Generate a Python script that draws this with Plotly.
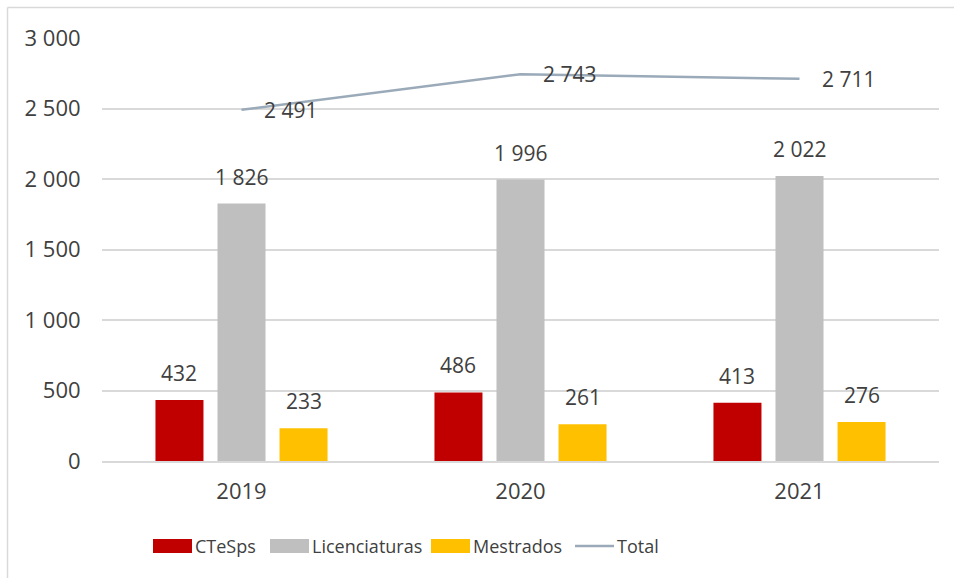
import plotly.graph_objects as go

years = ["2019", "2020", "2021"]
ctesps = [432, 486, 413]
licenciaturas = [1826, 1996, 2022]
mestrados = [233, 261, 276]
total = [2491, 2743, 2711]

W, H = 954, 578
ML, MR, MT, MB = 102, 15, 38, 117
pw = W - ML - MR
ph = H - MT - MB

FONT = "Open Sans"
FS = 22
TXT = "#404040"
BORDER = "#D9D9D9"


def fmt(v):
    return f"{v:,}".replace(",", " ")


fig = go.Figure()
series = [
    ("CTeSps", ctesps, "#C00000"),
    ("Licenciaturas", licenciaturas, "#BFBFBF"),
    ("Mestrados", mestrados, "#FFC000"),
]
nS = len(series)
bargap, groupgap = 0.333, 0.226
slot = (1 - bargap) / nS
for i, (name, vals, col) in enumerate(series):
    fig.add_trace(go.Bar(
        x=years, y=vals, name=name, marker=dict(color=col, line=dict(width=0)),
        offsetgroup=str(i), showlegend=False, hoverinfo="skip",
    ))
    off = (i - (nS - 1) / 2) * slot
    for k, v in enumerate(vals):
        fig.add_annotation(
            x=k + off, y=v, xref="x", yref="y", text=fmt(v), showarrow=False,
            yanchor="bottom", xanchor="center", yshift=11,
            font=dict(family=FONT, size=21, color=TXT),
        )

fig.add_trace(go.Scatter(
    x=years, y=total, name="Total", mode="lines",
    line=dict(color="#9AAAB9", width=2.5), showlegend=False, hoverinfo="skip",
))
for k, v in enumerate(total):
    fig.add_annotation(
        x=k, y=v, xref="x", yref="y", text=fmt(v), showarrow=False,
        xanchor="left", yanchor="middle", xshift=20,
        font=dict(family=FONT, size=21, color=TXT),
    )

# custom legend (Excel style wide swatches)
legend_items = [("CTeSps", "#C00000", "bar", 153),
                ("Licenciaturas", "#BFBFBF", "bar", 270),
                ("Mestrados", "#FFC000", "bar", 431),
                ("Total", "#9AAAB9", "line", 575)]
ly = (MT + ph - 546) / ph
lh = 7 / ph
for name, col, kind, px in legend_items:
    xa = (px - ML) / pw
    xb = (px + 39 - ML) / pw
    if kind == "bar":
        fig.add_shape(type="rect", xref="paper", yref="paper", x0=xa, x1=xb,
                      y0=ly - lh, y1=ly + lh, fillcolor=col, line=dict(width=0))
    else:
        fig.add_shape(type="line", xref="paper", yref="paper", x0=xa, x1=xb,
                      y0=ly, y1=ly, line=dict(color=col, width=2.5))
    fig.add_annotation(x=(px + 40 - ML) / pw, y=ly, xref="paper", yref="paper",
                       text=name, showarrow=False, xanchor="left", yanchor="middle",
                       font=dict(family=FONT, size=18, color=TXT))

# chart area border (left and top only visible)
x0 = (7.5 - ML) / pw
x1 = (W - ML) / pw
y0 = 1 + (MT - 7.5) / ph
y1 = -(MB) / ph
fig.add_shape(type="line", xref="paper", yref="paper", x0=x0, x1=x1, y0=y0, y1=y0,
              line=dict(color=BORDER, width=1.5))
fig.add_shape(type="line", xref="paper", yref="paper", x0=x0, x1=x0, y0=y0, y1=y1,
              line=dict(color=BORDER, width=1.5))

fig.update_layout(
    width=W, height=H,
    margin=dict(l=ML, r=MR, t=MT, b=MB, autoexpand=False),
    paper_bgcolor="white", plot_bgcolor="white",
    separators=", ",
    barmode="group", bargap=bargap, bargroupgap=groupgap,
    font=dict(family=FONT, size=FS, color=TXT),
    showlegend=False,
    xaxis=dict(showgrid=False, showline=True, linecolor=BORDER, linewidth=1.5,
               ticks="outside", ticklen=10, tickcolor="rgba(0,0,0,0)",
               tickfont=dict(family=FONT, size=FS, color=TXT)),
    yaxis=dict(range=[0, 3000], dtick=500, tickformat=",d", showgrid=True,
               gridcolor=BORDER, gridwidth=1.5, zeroline=False, showline=False,
               ticks="outside", ticklen=16, tickcolor="rgba(0,0,0,0)",
               tickfont=dict(family=FONT, size=FS, color=TXT)),
)
fig.write_html("out.html", config={"displayModeBar": False},
               post_script="document.body.style.margin='0';")
